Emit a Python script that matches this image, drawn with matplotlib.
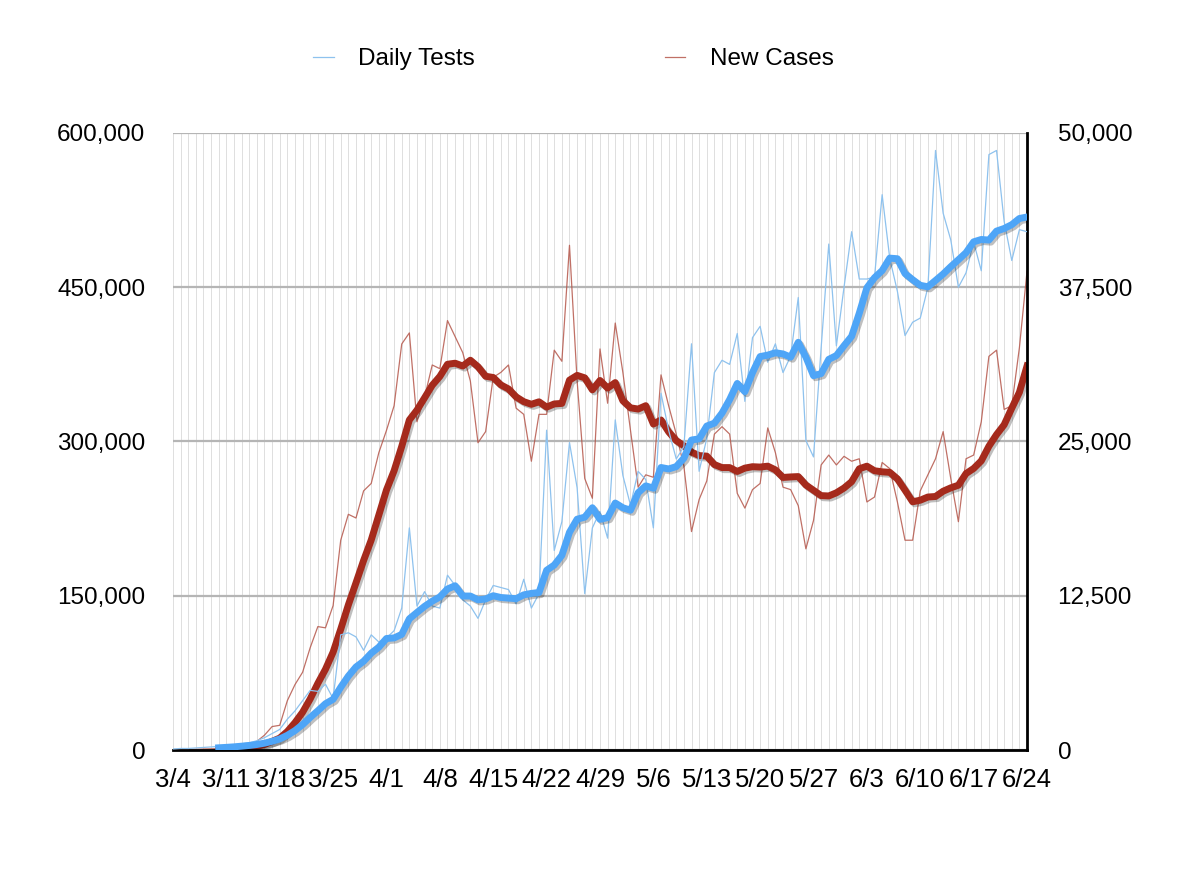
import pandas as pd
import matplotlib
matplotlib.use("Agg")
import matplotlib.pyplot as plt
import matplotlib.patheffects as pe
from matplotlib.ticker import FuncFormatter, MultipleLocator

plt.rcParams['font.family'] = ['Liberation Sans', 'DejaVu Sans']

# Daily values, 3/4 to 6/24
dates = pd.date_range('2020-03-04', '2020-06-24', freq='D')

daily_tests = [
    1000, 1500, 1500, 2000, 2500, 3000, 3500, 4000, 5000, 6000, 7000,
    9000, 12000, 16000, 20000, 30000, 38000, 48000, 58000, 57000, 64000, 50000,
    112000, 114000, 110000, 97000, 112000, 105000, 109000, 116000, 138000,
    216000, 140000, 154000, 140000, 138000, 170000, 160000,
    146000, 140000, 128000, 146000, 160000, 158000, 156000, 142000, 166000,
    138000, 152000, 311000, 194000, 222000, 299000, 255000, 152000, 216000,
    232000, 206000, 321000, 267000, 238000, 271000, 263000, 216000, 347000,
    311000, 283000, 295000, 395000, 271000, 303000, 367000, 379000, 375000,
    405000, 339000, 401000, 412000, 377000, 395000, 367000, 383000, 440000,
    301000, 285000, 391000, 492000, 393000, 450000, 504000, 458000, 458000,
    460000, 540000, 478000, 446000, 403000, 416000, 420000, 450000, 583000,
    522000, 496000, 450000, 464000, 494000, 466000, 579000, 583000, 514000,
    476000, 506000, 504000,
]

new_cases = [
    20, 30, 40, 60, 80, 100, 120, 150, 250, 300, 400,
    700, 1200, 1900, 2000, 4000, 5300, 6300, 8300, 10000, 9900, 11700,
    17000, 19100, 18800, 21000, 21600, 24100, 25900, 27900, 32900,
    33800, 26600, 28600, 31200, 30900, 34800, 33500,
    32200, 29900, 24900, 25800, 30200, 30600, 31200, 27700, 27200,
    23400, 27200, 27200, 32400, 31500, 40900, 29900, 22000, 20400,
    32500, 28100, 34600, 30600, 25900, 21300, 22300, 22100, 30400,
    27900, 25600, 23000, 17700, 20300, 21800, 25600, 26200, 25600,
    20800, 19600, 21100, 21600, 26100, 24100, 21300, 21100, 19800,
    16300, 18600, 23100, 23900, 23100, 23800, 23400, 23600, 20100,
    20500, 23300, 22800, 20100, 17000, 17000, 21000, 22300, 23600,
    25800, 22000, 18500, 23600, 23900, 26600, 31900, 32400, 27600,
    27900, 32600, 38800,
]

tick_labels = ['3/4', '3/11', '3/18', '3/25', '4/1', '4/8', '4/15', '4/22', '4/29',
               '5/6', '5/13', '5/20', '5/27', '6/3', '6/10', '6/17', '6/24']

df = pd.DataFrame({'tests': daily_tests, 'cases': new_cases}, index=dates)
df['day'] = range(len(df))
df['tests_avg'] = df['tests'].rolling(7).mean()
df['cases_avg'] = df['cases'].rolling(7).mean()

fig = plt.figure(figsize=(11.92, 8.72), dpi=100)
ax = fig.add_axes([0.1451, 0.1399, 0.7165, 0.7076])   # cases (drawn underneath)
ax2 = ax.twinx()                                       # tests (drawn on top)

shadow = [pe.SimpleLineShadow(offset=(1.5, -1.5), alpha=0.25), pe.Normal()]

# cases on ax, ticks on the right
ax.plot(df['day'], df['cases'], color='#b5574b', lw=0.9, alpha=0.85, label='New Cases')
ax.plot(df['day'], df['cases_avg'], color='#a52a1c', lw=5, path_effects=shadow)

# tests on ax2, ticks on the left
ax2.plot(df['day'], df['tests'], color='#8ec2ee', lw=0.9, label='Daily Tests')
ax2.plot(df['day'], df['tests_avg'], color='#4ea5f7', lw=5, path_effects=shadow)

ax.set_xlim(0, len(df) - 1)
ax.set_ylim(0, 50000)
ax2.set_ylim(0, 600000)

ax.yaxis.tick_right()
ax2.yaxis.tick_left()
ax.yaxis.set_major_locator(MultipleLocator(12500))
ax2.yaxis.set_major_locator(MultipleLocator(150000))
comma = FuncFormatter(lambda v, p: f'{int(v):,}')
ax.yaxis.set_major_formatter(comma)
ax2.yaxis.set_major_formatter(comma)

ax.set_xticks(range(0, len(df), 7))
ax.set_xticklabels(tick_labels)
ax.xaxis.set_minor_locator(MultipleLocator(1))

ax.tick_params(axis='x', which='both', length=0, pad=13, labelsize=18.5)
ax.tick_params(axis='y', length=0, pad=22, labelsize=17.5)
ax2.tick_params(axis='y', length=0, pad=20, labelsize=17.5)

# gridlines
ax.grid(axis='x', which='both', color='#dedede', lw=0.7)
ax.grid(axis='y', which='major', color='#b5b5b5', lw=1.6)
ax.set_axisbelow(True)

for a in (ax, ax2):
    for side in ('top', 'left', 'right', 'bottom'):
        a.spines[side].set_visible(False)
for side in ('bottom', 'right'):
    ax.spines[side].set_visible(True)
    ax.spines[side].set_linewidth(2)
    ax.spines[side].set_color('black')
    ax.spines[side].set_zorder(5)

h1, l1 = ax2.get_legend_handles_labels()
h2, l2 = ax.get_legend_handles_labels()
fig.legend(h1 + h2, l1 + l2, loc='center', bbox_to_anchor=(0.481, 0.932), ncol=2,
           frameon=False, fontsize=17.5, handlelength=0.85, handletextpad=1.0,
           columnspacing=7.8)

fig.savefig('out.png', dpi=100, facecolor='white')
